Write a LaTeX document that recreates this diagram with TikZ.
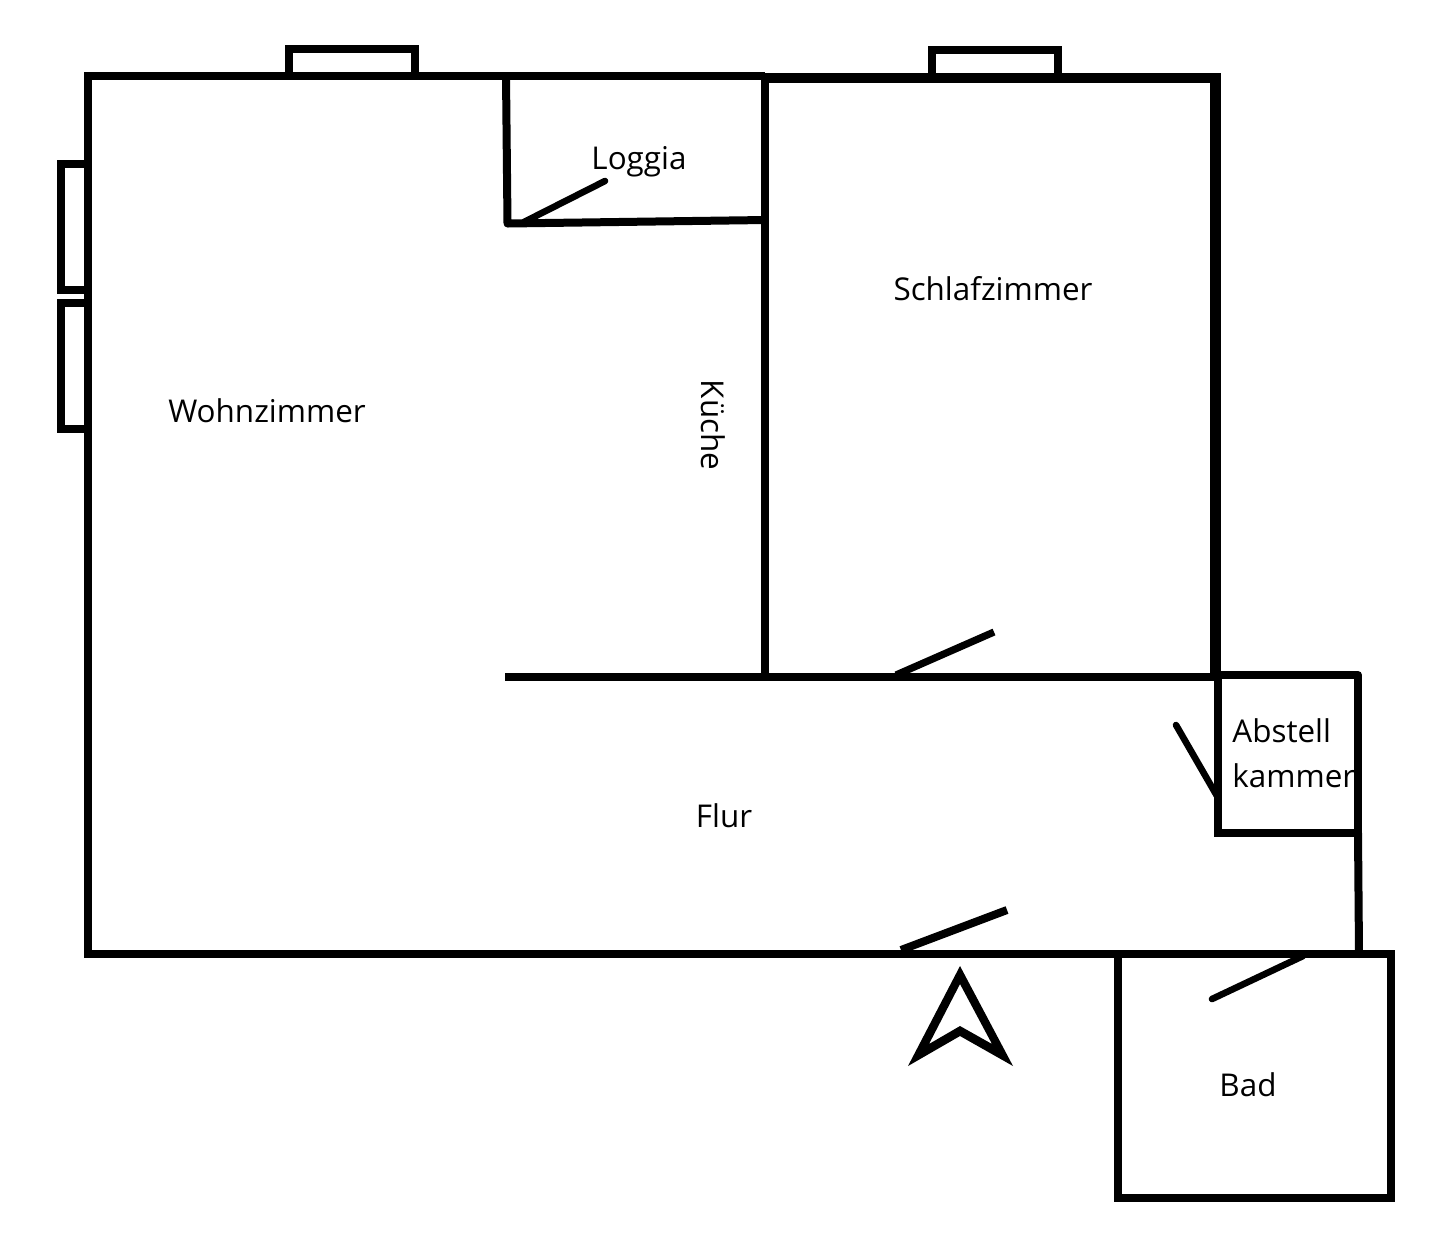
\documentclass[tikz,border=0pt]{standalone}
\usepackage{fontspec}
\setmainfont{Open Sans}
\tikzset{
  wall/.style={line width=4pt,line cap=butt,line join=miter,black},
  thick wall/.style={wall,line width=5.3pt},
  swing/.style={wall,line width=3.3pt,line cap=round},
  lbl/.style={inner sep=0pt,font=\fontsize{15.7pt}{22pt}\selectfont,text=black},
}
\begin{document}
\begin{tikzpicture}[x=0.5pt,y=-0.5pt]
\useasboundingbox (0,0) rectangle (1440,1250);
\fill[white] (0,0) rectangle (1440,1250);
% outer walls
\draw[wall] (765,76) -- (88,76) -- (88,954) -- (1118,954);
\draw[thick wall] (765,78) -- (1215.5,78) -- (1215.5,678);
% windows
\draw[wall] (289,76) -- (289,49) -- (415,49) -- (415,76);
\draw[wall,line width=3.7pt] (932,76) -- (932,50) -- (1058,50) -- (1058,76);
\draw[wall] (88,164) -- (61,164) -- (61,290) -- (88,290);
\draw[wall] (88,303) -- (61,303) -- (61,429) -- (88,429);
% loggia
\draw[wall,line join=round] (506,76) -- (507.5,223.5) -- (765,220);
\draw[swing] (524,222) -- (605,181);
% inner walls
\draw[wall] (765,76) -- (765,678);
\draw[wall] (505,677) -- (1216,677);
\draw[wall,line width=3.6pt] (896,675) -- (994,632);
% abstell
\draw[wall] (1214,675) -- (1358,675);
\draw[wall,line cap=round] (1358,675) -- (1358,833);
\draw[wall] (1214,833) -- (1358,833);
\draw[wall] (1218,675) -- (1218,837);
\draw[swing] (1176,725) -- (1217,796);
% flur right wall
\draw[wall,line cap=round] (1358,833) -- (1359,954);
\draw[wall] (901,950) -- (1007,910);
% bad
\draw[wall] (1118,954) rectangle (1391,1198);
\draw[swing] (1212,999) -- (1303,956);
% arrow
\fill[black,even odd rule] (960,966) -- (1013,1066) -- (960,1036) -- (908,1066) -- cycle
  (960,984) -- (992,1044) -- (960,1026) -- (929,1044) -- cycle;
% labels
\node[lbl] (wohn) at (267,411) {Wohnzimmer};
\node[lbl] (schlaf) at (993,289) {Schlafzimmer};
\node[lbl] (loggia) at (639,162) {Loggia};
\node[lbl,rotate=-90] (kueche) at (713,425) {Küche};
\node[lbl] (flur) at (724,816) {Flur};
\node[lbl] (bad) at (1248,1085) {Bad};
\node[lbl,anchor=west] (abstell) at (1232,731) {Abstell};
\node[lbl,anchor=west] (kammer) at (1232,776) {kammer};
\end{tikzpicture}
\end{document}
